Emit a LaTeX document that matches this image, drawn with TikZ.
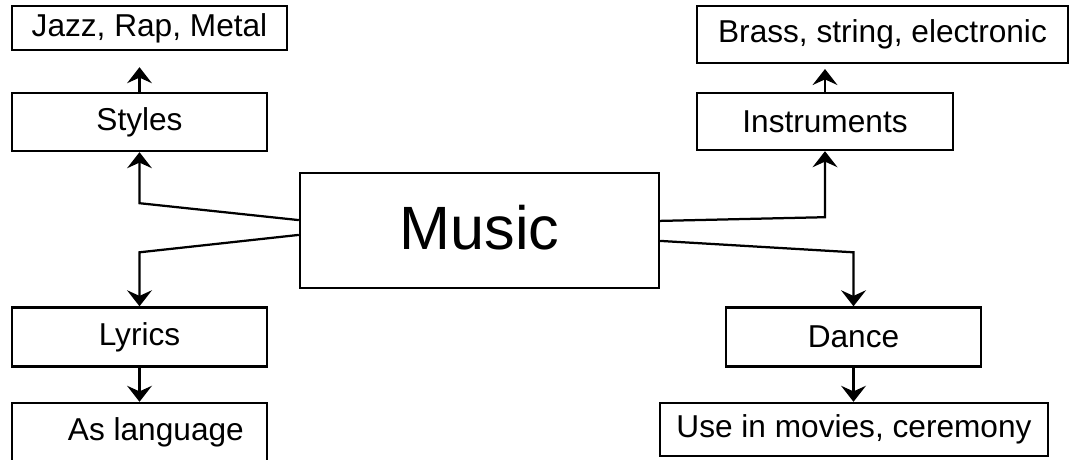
\documentclass[tikz,border=0pt]{standalone}
\usepackage{fontspec}
\setmainfont{Liberation Sans}
\usetikzlibrary{arrows.meta,positioning}
\tikzstyle{every topic} = []
\tikzstyle{topic} = [draw, line width=1.7pt, inner sep=0pt, font=\fontsize{22.5}{27}\selectfont, every topic]
\tikzstyle{link} = [-{Stealth[length=0.4cm,width=0.62cm,inset=0.14cm]}, line width=1.6pt, draw]

\begin{document}
\begin{tikzpicture}
        \useasboundingbox (0,0) rectangle (26.775,11.475);
        \clip (0,0) rectangle (26.775,11.475);

        \node[topic,minimum width=8.975cm,minimum height=2.875cm,font=\fontsize{43.5}{50}\selectfont] (music) at (11.9875,5.7125) {\raisebox{0.15cm}{Music}};

        \node[topic,minimum width=6.875cm,minimum height=1.1cm] (jazz) at (3.7375,10.775) {Jazz, Rap, Metal};
        \node[topic,minimum width=6.375cm,minimum height=1.45cm] (styles) at (3.4875,8.425) {Styles};
        \node[topic,minimum width=9.275cm,minimum height=1.425cm] (brass) at (22.0625,10.6125) {Brass, string, electronic};
        \node[topic,minimum width=6.4cm,minimum height=1.425cm] (instruments) at (20.625,8.4375) {Instruments};
        \node[topic,minimum width=6.375cm,minimum height=1.475cm] (lyrics) at (3.4875,3.05) {Lyrics};
        \node[topic,minimum width=6.375cm,minimum height=1.475cm] (aslanguage) at (3.4875,0.6625) {\hspace*{0.82cm}As language};
        \node[topic,minimum width=6.375cm,minimum height=1.475cm] (dance) at (21.3375,3.05) {Dance};
        \node[topic,minimum width=9.7cm,minimum height=1.325cm] (usein) at (21.35,0.7375) {Use in movies, ceremony};

        \draw[link] ([yshift=0.26cm]music.west) -- ([yshift=-1.275cm]styles.south) -- (styles.south);
        \draw[link] ([yshift=-0.11cm]music.west) -- ([yshift=1.35cm]lyrics.north) -- (lyrics.north);
        \draw[link] ([yshift=0.24cm]music.east) -- ([yshift=-1.65cm]instruments.south) -- (instruments.south);
        \draw[link] ([yshift=-0.26cm]music.east) -- ([yshift=1.35cm]dance.north) -- (dance.north);

        \draw[link,shorten >=0.4cm] (styles.north) -- (styles.north |- jazz.south);
        \draw[link,shorten >=0.12cm] (instruments.north) -- (instruments.north |- brass.south);
        \draw[link] (lyrics.south) -- (aslanguage.north);
        \draw[link] (dance.south) -- (dance.south |- usein.north);
\end{tikzpicture}
\end{document}
